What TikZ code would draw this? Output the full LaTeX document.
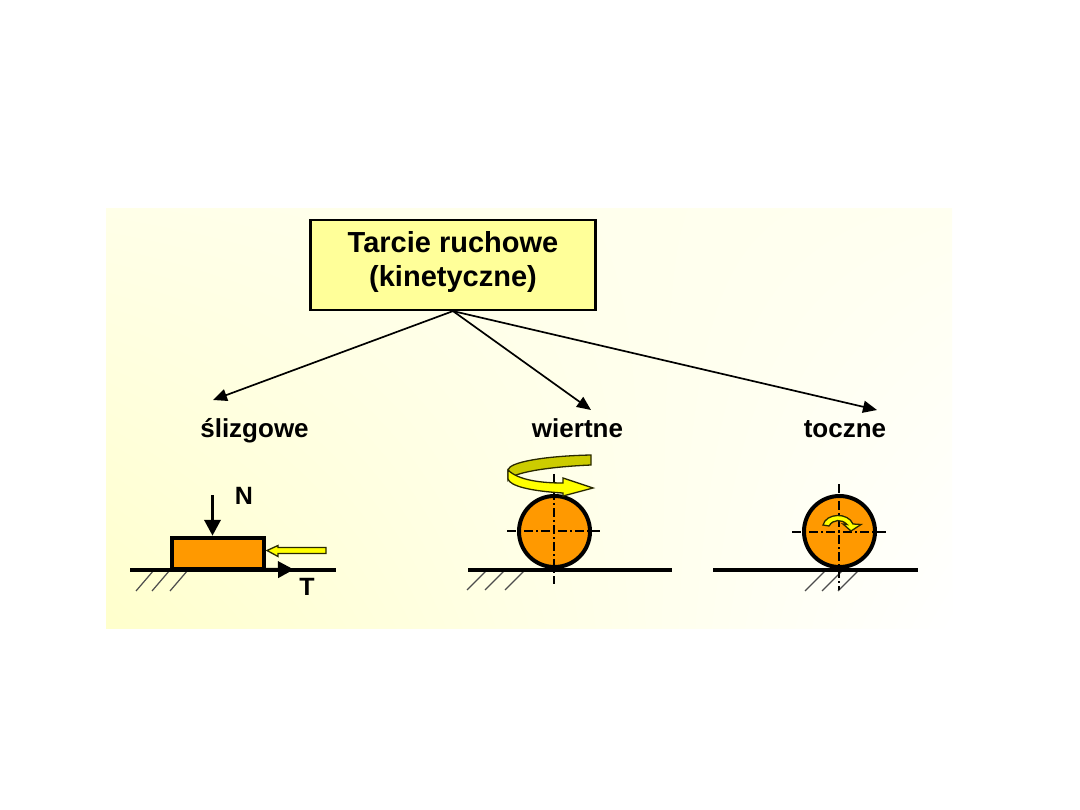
\documentclass[tikz,border=0pt]{standalone}
\usepackage{fontspec}
\setmainfont{Liberation Sans}
\usetikzlibrary{arrows.meta,shadings}
\definecolor{org}{RGB}{255,153,0}
\definecolor{boxy}{RGB}{255,255,153}
\definecolor{ylw}{RGB}{255,255,0}
\definecolor{olv}{RGB}{204,204,0}
\definecolor{bgy}{RGB}{255,255,204}
\definecolor{bgul}{RGB}{255,255,232}
\definecolor{bgur}{RGB}{255,255,240}
\tikzset{x=1pt,y=-1pt,
 titlebox/.style={draw=black,line width=2.2pt,fill=boxy,minimum width=285pt,minimum height=90pt,inner sep=0pt},
 titletext/.style={align=center,font=\fontsize{29}{34}\selectfont\bfseries,inner sep=0pt},
 lab/.style={font=\fontsize{26}{28}\selectfont\bfseries,inner sep=0pt,anchor=base},
 biglab/.style={font=\fontsize{25}{28}\selectfont\bfseries,inner sep=0pt,anchor=base},
 arr/.style={line width=1.7pt,-{Triangle[length=14pt,width=12pt]}},
 ground/.style={line width=4pt},
 hatch/.style={line width=1.2pt,draw=black!70},
 wheel/.style={circle,draw=black,line width=4pt,fill=org,minimum size=71pt,inner sep=0pt},
 axisl/.style={line width=1.4pt,dash pattern=on 9pt off 3pt on 2pt off 3pt},
 force/.style={line width=3.6pt,-{Triangle[length=16pt,width=16pt]}},
 yellowarr/.style={draw=black!80!olv,line width=1.3pt,fill=ylw,line join=miter},
}
\begin{document}
\begin{tikzpicture}
\useasboundingbox (0,0) rectangle (1080,810);
\fill[white] (0,0) rectangle (1080,810);
\shade[lower left=bgy,upper left=bgul,lower right=white,upper right=bgur] (106,209) rectangle (952,628);
\node[titlebox] (title) at (453,265) {};
\node[titletext] (titlet) at (453,262.5) {Tarcie ruchowe\\(kinetyczne)};
\node[lab] (sl) at (254.5,438) {ślizgowe};
\node[lab] (wi) at (577.5,438) {wiertne};
\node[lab] (to) at (845,438) {toczne};
\coordinate (t1) at (213,400);
\coordinate (t2) at (591,410);
\coordinate (t3) at (877,410);
\draw[arr] (title.south) -- (t1);
\draw[arr] (title.south) -- (t2);
\draw[arr] (title.south) -- (t3);
% left figure
\foreach \x in {154,170,188}{\draw[hatch] (\x,570) -- (\x-18,591);}
\draw[ground] (130,569.5) -- (336,569.5);
\node[draw=black,line width=4.4pt,fill=org,minimum width=92pt,minimum height=31pt,inner sep=0pt] (blk) at (218,553.5) {};
\coordinate (nstart) at (212.5,495);
\draw[force] (nstart) -- (blk.north -| nstart);
\coordinate (tend) at (294,569.5);
\draw[force] (blk.south east) ++(0,-1.5) -- (tend);
\node[biglab] (n) at (244,504) {N};
\node[biglab] (tt) at (307,595) {T};
\draw[yellowarr] (326,547.5) -- (326,553.5) -- (278,553.5) -- (278,556.5) -- (267,550.5) -- (278,545.5) -- (278,547.5) -- cycle;
% middle figure
\foreach \x in {486,504,524}{\draw[hatch] (\x,571) -- (\x-19,590);}
\draw[ground] (468,569.5) -- (672,569.5);
\node[wheel] (w1) at (554.5,531.5) {};
\draw[axisl,line width=1.1pt] (554,474) -- (554,584);
\draw[axisl,line width=1.1pt] (507,531) -- (600,531);
\fill[olv,draw=black!80!olv,line width=1.3pt] (591,455) .. controls (545,456) and (509,462) .. (508,470) -- (508,480) .. controls (512,473) and (545,467) .. (591,465) -- cycle;
\draw[yellowarr] (508,470) -- (508,479) .. controls (510,486) and (530,491) .. (563,493) -- (563,496) -- (593,488) -- (563,478) -- (563,483) .. controls (540,483) and (518,480) .. (508,470) -- cycle;
% right figure
\foreach \x in {825,842,858}{\draw[hatch] (\x,571) -- (\x-20,591);}
\draw[ground] (713,569.5) -- (918,569.5);
\node[wheel] (w2) at (839.5,531.5) {};
\draw[axisl,line width=1.1pt] (839,484) -- (839,590);
\draw[axisl,line width=1.1pt] (792,532) -- (886,532);
\draw[yellowarr] (823,525) .. controls (826,513) and (848,512) .. (853,524) -- (861,524.5) -- (851,531) -- (843,524) -- (847,524.5) .. controls (842,519) and (833,519) .. (829,526) -- cycle;
\end{tikzpicture}
\end{document}
